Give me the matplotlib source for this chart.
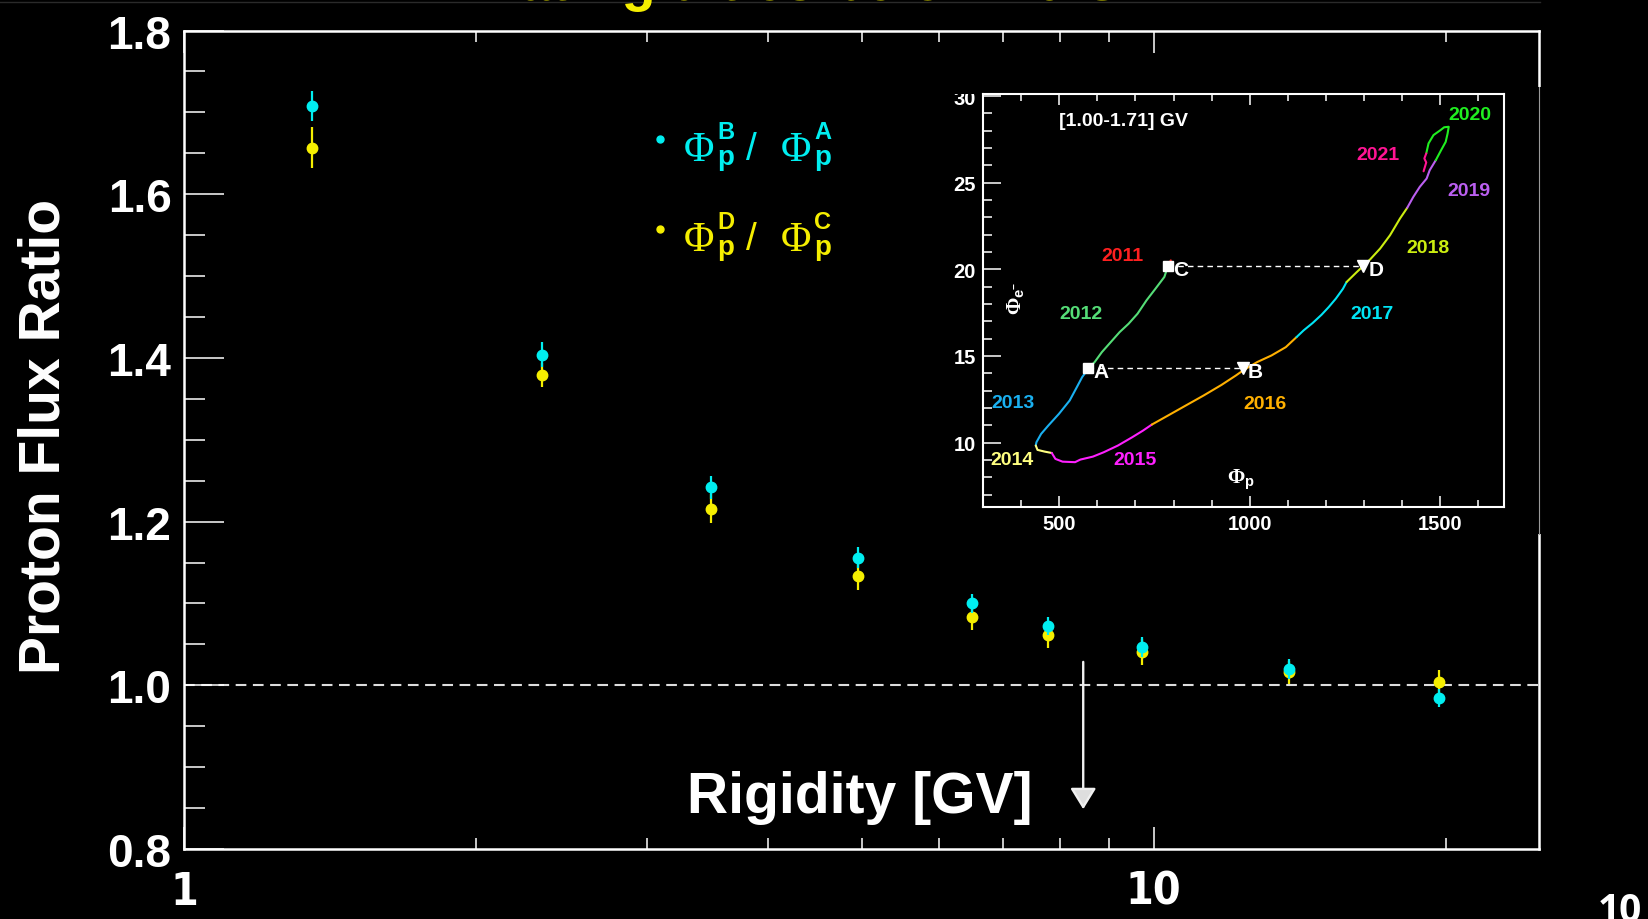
import numpy as np
import matplotlib
matplotlib.use("Agg")
import matplotlib.pyplot as plt
from matplotlib import font_manager as fm
from matplotlib.ticker import FixedLocator, MultipleLocator, NullFormatter, FixedFormatter, LogLocator
from matplotlib.patches import Rectangle
from matplotlib.lines import Line2D
from matplotlib.transforms import Bbox

# ---------------- data ----------------
rigidity = [1.355, 2.338, 3.494, 4.96, 6.49, 7.775, 9.72, 13.78, 19.68]
ratio_BA = [1.708, 1.404, 1.242, 1.156, 1.100, 1.073, 1.047, 1.020, 0.985]
err_BA = [0.018, 0.015, 0.014, 0.013, 0.012, 0.011, 0.012, 0.012, 0.011]
ratio_DC = [1.657, 1.379, 1.216, 1.133, 1.084, 1.062, 1.041, 1.016, 1.004]
err_DC = [0.025, 0.015, 0.018, 0.016, 0.016, 0.016, 0.016, 0.014, 0.015]

y_ticks = [0.8, 1.0, 1.2, 1.4, 1.6, 1.8]
x_ticks = [1, 10]
x_ticklabels = ["1", "10"]
arrow_rigidity = 8.46
arrow_top, arrow_tip = 1.0286, 0.8486

legend_sup = [("B", "A"), ("D", "C")]

# inset: (phi_p, phi_e) trajectory per year
years = ["2011", "2012", "2013", "2014", "2015", "2016", "2017", "2018", "2019", "2020", "2021"]
year_colors = ["#ff2020", "#55dd77", "#1ab0f0", "#ffff80", "#ff20ff", "#ffb000",
               "#00e5f5", "#ccee10", "#bb5ff0", "#20ee20", "#ff1493"]
phi_p = {
    "2011": [792.7, 785.2],
    "2012": [785.2, 775.8, 752.4, 729.0, 705.5, 682.0, 658.6, 635.2, 611.8, 593.0, 576.2],
    "2013": [576.2, 560.2, 546.2, 527.4, 499.3, 471.2, 452.4, 440.2, 438.4],
    "2014": [438.4, 443.0, 461.8, 480.5],
    "2015": [480.5, 489.9, 508.7, 541.5, 555.5, 588.3, 616.5, 654.0, 691.5, 719.6, 743.0],
    "2016": [743.0, 785.2, 832.0, 879.0, 925.8, 963.3, 982.0, 1019.5, 1057.0, 1094.5, 1122.7],
    "2017": [1122.7, 1141.4, 1164.8, 1188.3, 1207.0, 1225.8, 1244.5, 1254.0],
    "2018": [1254.0, 1281.0, 1298.0, 1316.0, 1342.0, 1368.0, 1394.0, 1413.0],
    "2019": [1413.0, 1429.0, 1446.0, 1464.0, 1472.0, 1488.0],
    "2020": [1488.0, 1502.0, 1514.0, 1519.0, 1522.0, 1510.0, 1500.0, 1482.0, 1469.0, 1463.0],
    "2021": [1463.0, 1458.0, 1463.0, 1456.0],
}
phi_e = {
    "2011": [20.52, 20.17],
    "2012": [20.17, 19.56, 18.88, 18.21, 17.44, 16.86, 16.38, 15.80, 15.22, 14.65, 14.26],
    "2013": [14.26, 13.78, 13.20, 12.43, 11.66, 10.98, 10.50, 10.02, 9.83],
    "2014": [9.83, 9.58, 9.48, 9.40],
    "2015": [9.40, 9.06, 8.90, 8.87, 9.02, 9.19, 9.44, 9.83, 10.31, 10.69, 11.04],
    "2016": [11.04, 11.56, 12.14, 12.72, 13.33, 13.87, 14.16, 14.65, 15.03, 15.51, 16.09],
    "2017": [16.09, 16.48, 16.90, 17.38, 17.82, 18.31, 18.88, 19.27],
    "2018": [19.27, 19.85, 20.20, 20.58, 21.20, 21.97, 22.93, 23.55],
    "2019": [23.55, 24.18, 24.76, 25.24, 25.72, 26.30],
    "2020": [26.30, 26.88, 27.36, 27.84, 28.23, 28.20, 28.03, 27.75, 27.27, 26.69],
    "2021": [26.69, 26.40, 26.17, 25.66],
}
year_label_p = [666, 556, 380, 377, 698, 1040, 1321, 1468, 1576, 1577, 1337]
year_label_e = [20.81, 17.44, 12.34, 9.0, 9.0, 12.24, 17.44, 21.24, 24.53, 28.94, 26.63]

point_names = ["A", "B", "C", "D"]
point_p = [576, 982, 785, 1298]
point_e = [14.3, 14.3, 20.2, 20.2]
point_markers = ["s", "v", "s", "v"]
inset_xticks = [500, 1000, 1500]
inset_yticks = [10, 15, 20, 25, 30]

# ---------------- style ----------------
cond_file = None
for f in fm.fontManager.ttflist:
    if f.stretch in ("condensed", "semi-condensed", "extra-condensed") and "Sans" in f.name \
            and (f.weight == "bold" or f.weight == 700):
        cond_file = f.fname
        break

plt.rcParams["font.family"] = ["Liberation Sans", "DejaVu Sans"]
plt.rcParams["font.weight"] = "bold"
plt.rcParams["lines.scale_dashes"] = False
plt.rcParams["mathtext.fontset"] = "custom"
plt.rcParams["mathtext.rm"] = "Liberation Serif"
plt.rcParams["mathtext.it"] = "Liberation Serif:italic"
plt.rcParams["mathtext.bf"] = "Liberation Sans:bold"

W, H = 1649, 920
fig = plt.figure(figsize=(W / 100, H / 100), dpi=100, facecolor="black")

def fx(px):
    return px / W

def fy(py):
    return 1 - py / H

CYAN = "#00eef0"
YEL = "#f5ee00"

# ---------------- main axes ----------------
ax = fig.add_axes([fx(184), fy(850), fx(1539.5) - fx(184), fy(31.5) - fy(850)], zorder=0)
ax.set_facecolor("black")
ax.set_xscale("log")
ax.set_xlim(1, 25)
ax.set_ylim(0.8, 1.8)
for s in ax.spines.values():
    s.set_color("white")
    s.set_linewidth(1.8)

ax.yaxis.set_major_locator(FixedLocator(y_ticks))
ax.yaxis.set_major_formatter(FixedFormatter(["%.1f" % v for v in y_ticks]))
ax.yaxis.set_minor_locator(MultipleLocator(0.05))
ax.xaxis.set_major_locator(FixedLocator(x_ticks))
ax.xaxis.set_major_formatter(FixedFormatter(x_ticklabels))
ax.xaxis.set_minor_locator(LogLocator(base=10, subs=np.arange(2, 10)))
ax.xaxis.set_minor_formatter(NullFormatter())

ax.tick_params(axis="y", which="major", direction="in", length=29, width=1.1,
               color="white", left=True, right=False, labelsize=33, labelcolor="white", pad=9)
ax.tick_params(axis="y", which="minor", direction="in", length=15, width=1.1,
               color="white", left=True, right=False)
ax.tick_params(axis="x", which="major", direction="in", length=16, width=1.1,
               color="white", top=True, bottom=True, labelcolor="white", pad=15)
ax.tick_params(axis="x", which="minor", direction="in", length=8, width=1.1,
               color="white", top=True, bottom=True)
for lbl in ax.get_xticklabels():
    if cond_file:
        lbl.set_fontproperties(fm.FontProperties(fname=cond_file, size=32))
    else:
        lbl.set_fontsize(31)
        lbl.set_fontweight("bold")
for lbl in ax.get_yticklabels():
    lbl.set_fontweight("bold")

ax.axhline(1.0, color="#dddddd", lw=1.5, dashes=(7.7, 4.7), zorder=1)

ax.errorbar(rigidity, ratio_DC, yerr=err_DC, fmt="o", color=YEL, ms=7.5, elinewidth=1.6,
            capsize=0, zorder=3)
ax.errorbar(rigidity, ratio_BA, yerr=err_BA, fmt="o", color=CYAN, ms=7.5, elinewidth=1.6,
            capsize=0, zorder=4)

ax.annotate("", xy=(arrow_rigidity, arrow_tip), xytext=(arrow_rigidity, arrow_top),
            arrowprops=dict(arrowstyle="-|>,head_length=1.3,head_width=0.8", mutation_scale=10,
                            lw=1.7, color="#f0f0f0", fc="#dedede", shrinkA=0, shrinkB=0))

# legend, built from pieces: serif Phi, bold sans super/subscripts
for row, (col, (num, den)) in enumerate(zip([CYAN, YEL], legend_sup)):
    dy = 90 * row
    ax.plot([fx(660)], [fy(140 + dy)], "o", color=col, ms=5, transform=fig.transFigure,
            clip_on=False)
    for x0, sup in [(684, num), (781, den)]:
        fig.text(fx(x0), fy(161 + dy), "\u03a6", family="Liberation Serif", fontweight="normal",
                 fontsize=30, color=col, ha="left", va="baseline")
        fig.text(fx(x0 + 33), fy(139 + dy), sup, fontsize=17, fontweight="bold", color=col,
                 ha="left", va="baseline")
        fig.text(fx(x0 + 33), fy(165 + dy), "p", fontsize=20, fontweight="bold", color=col,
                 ha="left", va="baseline")
    fig.text(fx(746), fy(160 + dy), "/", fontsize=28, fontweight="normal", color=col,
             ha="left", va="baseline")

fig.text(fx(45), fy(436.5), "Proton Flux Ratio", rotation=90, color="white", fontsize=41,
         fontweight="bold", ha="center", va="center")
fig.text(fx(860), fy(798), "Rigidity [GV]", color="white", fontsize=41, fontweight="bold",
         ha="center", va="center")

# partially visible caption text at top and stray label at bottom right (cut as in reference)
fig.text(fx(840), fy(0.5), "at rigidities below 10 GV", color=YEL, fontsize=40, fontweight="bold",
         ha="center", va="baseline")
fig.add_artist(Line2D([0, fx(1540)], [fy(2.7), fy(2.7)], color="#2a2a2a", lw=1))
fig.text(fx(1620), fy(922), "10", color="white", fontsize=28, fontweight="bold",
         family=["Open Sans", "DejaVu Sans"], ha="center", va="baseline")

# panel behind inset (covers part of right spine)
fig.add_artist(Rectangle((fx(940), fy(535)), fx(1546) - fx(940), fy(88) - fy(535),
                         transform=fig.transFigure, facecolor="black", edgecolor="none", zorder=1))
fig.add_artist(Line2D([fx(1539.5), fx(1539.5)], [fy(535), fy(88)], color="#9a9a9a", lw=0.8, zorder=1.5))

# ---------------- inset ----------------
ia = fig.add_axes([fx(983), fy(507.7), fx(1504) - fx(983), fy(94.5) - fy(507.7)], zorder=2)
ia.set_facecolor("black")
ia.set_xlim(300, 1667)
ia.set_ylim(6.3, 30.15)
for s in ia.spines.values():
    s.set_color("white")
    s.set_linewidth(1.5)
ia.xaxis.set_major_locator(FixedLocator(inset_xticks))
ia.xaxis.set_minor_locator(MultipleLocator(100))
ia.yaxis.set_major_locator(FixedLocator(inset_yticks))
ia.yaxis.set_minor_locator(MultipleLocator(1))
ia.tick_params(axis="x", which="major", direction="in", length=8, width=1.1, color="white",
               top=True, bottom=True, labelsize=14.5, labelcolor="white", pad=5)
ia.tick_params(axis="x", which="minor", direction="in", length=5, width=1.1, color="white",
               top=True, bottom=True)
ia.tick_params(axis="y", which="major", direction="in", length=13, width=1.1, color="white",
               left=True, right=False, labelsize=14.5, labelcolor="white", pad=5)
ia.tick_params(axis="y", which="minor", direction="in", length=6.5, width=1.1, color="white",
               left=True, right=False)
for lbl in ia.get_xticklabels() + ia.get_yticklabels():
    lbl.set_fontweight("bold")
clipbb = Bbox([[0, 0], [W, H - 95]])
for lbl in ia.get_yticklabels():
    lbl.set_clip_box(clipbb)
    lbl.set_clip_on(True)

for yr, col in zip(years, year_colors):
    ia.plot(phi_p[yr], phi_e[yr], color=col, lw=1.5, solid_capstyle="round", zorder=3)
for yr, col, px_, py_ in zip(years, year_colors, year_label_p, year_label_e):
    ia.text(px_, py_, yr, color=col, fontsize=14, fontweight="bold", ha="center", va="center")

ia.plot([point_p[0], point_p[1]], [point_e[0], point_e[1]], color="white", lw=1, dashes=(4, 3), zorder=4)
ia.plot([point_p[2], point_p[3]], [point_e[2], point_e[3]], color="white", lw=1, dashes=(4, 3), zorder=4)
for nm, pp, pe, mk in zip(point_names, point_p, point_e, point_markers):
    ia.plot([pp], [pe], marker=mk, color="white", ms=8.5 if mk == "v" else 7.5, zorder=5, ls="none")
    ia.text(pp + 33, pe - 0.2, nm, color="white", fontsize=15, fontweight="bold",
            ha="center", va="center", zorder=6)

ia.text(0.146, 0.934, "[1.00-1.71] GV", transform=ia.transAxes, color="white", fontsize=14,
        fontweight="bold", ha="left", va="center")
ia.text(0.495, 0.067, r"$\Phi_{\mathbf{p}}$", transform=ia.transAxes, color="white", fontsize=15,
        ha="center", va="center")
ia.text(0.063, 0.507, r"$\Phi_{\mathbf{e^{-}}}$", transform=ia.transAxes, color="white", fontsize=15,
        ha="center", va="center", rotation=90)

fig.savefig("out.png", dpi=100, facecolor="black")
